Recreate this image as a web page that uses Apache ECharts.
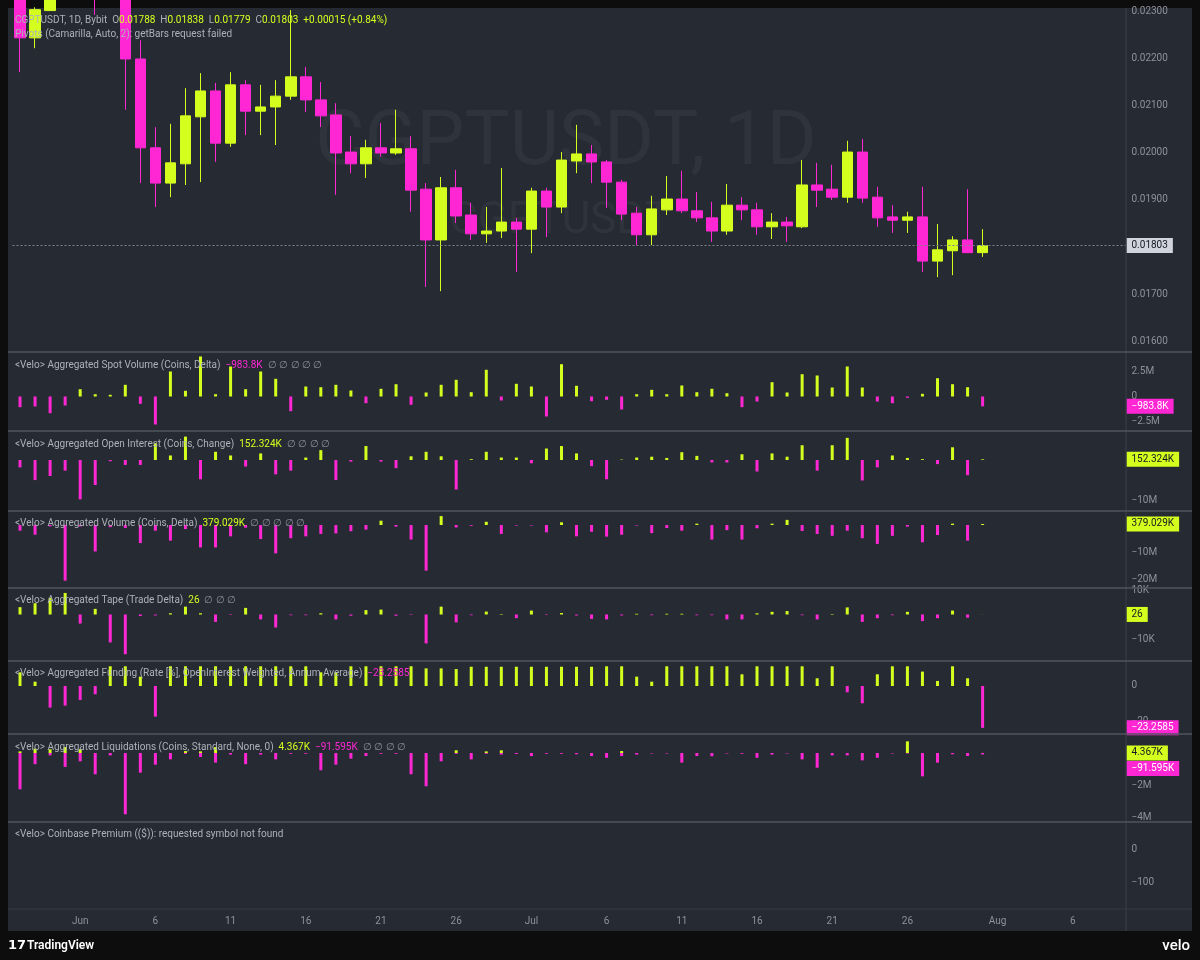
<!DOCTYPE html>
<html>
<head>
<meta charset="utf-8">
<title>CGPTUSDT, 1D</title>
<script src="https://cdn.jsdelivr.net/npm/echarts@6/dist/echarts.min.js"></script>
<style>
  html, body { margin: 0; padding: 0; background: #0d0d0d; }
  #chart { width: 1200px; height: 960px; }
</style>
</head>
<body>
<div id="chart"></div>
<script>
// 日期轴：5/28 起 74 天
const categories = []
for (let i = 0; i < 74; i++) {
  const d = new Date(Date.UTC(2025, 4, 28 + i))
  categories.push(d.toISOString().slice(0, 10))
}
const monthNames = ['Jan', 'Feb', 'Mar', 'Apr', 'May', 'Jun', 'Jul', 'Aug', 'Sep', 'Oct', 'Nov', 'Dec']
const tickDays = [1, 6, 11, 16, 21, 26]

// K 线 [open, high, low, close]，5/28 - 7/31
const candles = [
  [0.02330, 0.02345, 0.02172, 0.02245], [0.02245, 0.02310, 0.02223, 0.02305],
  [0.02303, 0.02350, 0.02302, 0.02340], [0.02340, 0.02400, 0.02320, 0.02360],
  [0.02360, 0.02380, 0.02320, 0.02340], [0.02340, 0.02370, 0.02294, 0.02330],
  [0.02330, 0.02380, 0.02310, 0.02350], [0.02350, 0.02370, 0.02092, 0.02200],
  [0.02200, 0.02240, 0.01936, 0.02011], [0.02011, 0.02055, 0.01885, 0.01936],
  [0.01936, 0.02062, 0.01906, 0.01979], [0.01977, 0.02138, 0.01932, 0.02079],
  [0.02077, 0.02170, 0.01938, 0.02132], [0.02132, 0.02149, 0.01981, 0.02021],
  [0.02021, 0.02172, 0.02013, 0.02145], [0.02145, 0.02155, 0.02038, 0.02089],
  [0.02089, 0.02145, 0.02038, 0.02098], [0.02098, 0.02155, 0.02017, 0.02121],
  [0.02121, 0.02304, 0.02113, 0.02162], [0.02162, 0.02183, 0.02087, 0.02113],
  [0.02113, 0.02151, 0.02055, 0.02079], [0.02081, 0.02106, 0.01911, 0.02000],
  [0.02002, 0.02036, 0.01957, 0.01977], [0.01977, 0.02028, 0.01947, 0.02011],
  [0.02011, 0.02064, 0.01992, 0.02000], [0.02000, 0.02092, 0.01996, 0.02009],
  [0.02009, 0.02036, 0.01875, 0.01921], [0.01923, 0.01936, 0.01715, 0.01815],
  [0.01815, 0.01949, 0.01706, 0.01926], [0.01926, 0.01964, 0.01851, 0.01866],
  [0.01868, 0.01894, 0.01815, 0.01828], [0.01828, 0.01885, 0.01809, 0.01834],
  [0.01834, 0.01968, 0.01819, 0.01853], [0.01853, 0.01862, 0.01747, 0.01838],
  [0.01838, 0.01926, 0.01787, 0.01919], [0.01919, 0.01926, 0.01821, 0.01885],
  [0.01885, 0.02002, 0.01872, 0.01985], [0.01983, 0.02060, 0.01957, 0.01998],
  [0.01998, 0.02017, 0.01936, 0.01981], [0.01981, 0.01985, 0.01883, 0.01938],
  [0.01938, 0.01943, 0.01857, 0.01870], [0.01872, 0.01885, 0.01804, 0.01826],
  [0.01826, 0.01909, 0.01804, 0.01881], [0.01879, 0.01951, 0.01868, 0.01902],
  [0.01902, 0.01962, 0.01872, 0.01877], [0.01877, 0.01917, 0.01853, 0.01862],
  [0.01862, 0.01896, 0.01811, 0.01834], [0.01834, 0.01934, 0.01826, 0.01889],
  [0.01889, 0.01906, 0.01857, 0.01879], [0.01879, 0.01894, 0.01826, 0.01843],
  [0.01843, 0.01872, 0.01817, 0.01853], [0.01853, 0.01864, 0.01811, 0.01845],
  [0.01843, 0.01985, 0.01840, 0.01932], [0.01932, 0.01979, 0.01885, 0.01921],
  [0.01923, 0.01975, 0.01900, 0.01906], [0.01906, 0.02026, 0.01894, 0.02002],
  [0.02002, 0.02030, 0.01894, 0.01904], [0.01906, 0.01928, 0.01843, 0.01862],
  [0.01864, 0.01889, 0.01830, 0.01857], [0.01857, 0.01875, 0.01830, 0.01864],
  [0.01864, 0.01928, 0.01747, 0.01770], [0.01770, 0.01849, 0.01736, 0.01794],
  [0.01792, 0.01823, 0.01740, 0.01815], [0.01815, 0.01923, 0.01787, 0.01788],
  [0.01788, 0.01838, 0.01779, 0.01803]
]

// 现货成交量差 (M)
const spotDelta = [
  -1.07, -1.0, -1.67, -0.9, 0.73, 0.23, 0.17, 1.17, -0.73, -2.8,
  2.5, 0.57, 4.0, 0.23, 3.0, 0.73, 2.5, 1.77, -1.47, 1.0,
  0.93, 1.17, 0.6, -0.67, 0.77, 1.23, -0.83, 0.4, 1.17, 1.67,
  0.43, 2.67, -0.4, 1.27, 1.0, -2.0, 3.23, 1.07, -0.47,
  -0.33, -1.3, 0.23, 0.67, 0.23, 1.1, 0.43, 0.77, 0.33, -1.07, -0.5, 1.43, 0.4,
  2.23, 2.1, 0.9, 3.0, 0.9, -0.5, -0.67, -0.13, 0.27, 1.83, 1.23, 0.93, -0.9838
]
// 持仓量变化 (M)
const oiChange = [
  -1.8, -4.9, -3.9, -2.6, -9.6, -6.1, -0.3, -1.2, -1.2, 4.1,
  1.1, 5.7, -4.7, 2.0, 1.1, -1.6, 1.6, -3.5, -2.6, 0.6,
  2.4, -4.9, -0.4, 3.4, -0.4, -2.0, 0.9, 2.0, 0.9, -7.2,
  0.2, 2.0, 0.6, 0.6, -0.8, 2.8, 3.4, 1.6, -1.5,
  -4.7, 0.1, 0.6, 0.8, 0.5, 1.9, 1.0, -0.6, -0.6, 1.4, -2.8, 1.6, 0.8,
  3.6, -2.6, 3.6, 5.4, -5.0, -1.8, 1.1, 0.5, 0.2, -1.0, 3.1, -3.7, 0.152
]
// 合约成交量差 (M)
const volDelta = [
  -2.1, -3.6, -0.5, -20.6, -0.5, -9.8, -0.8, -1.1, -6.7, -2.1,
  -5.8, -1.5, -8.3, -8.3, -4.2, -1.0, -5.2, -10.5, -4.9, -4.2,
  -3.3, -3.1, -2.3, -1.7, 1.6, -0.6, -5.4, -16.9, 3.3, -0.9,
  -0.3, 1.2, -3.3, -0.2, -0.2, -2.7, 1.0, -4.2, -2.5,
  -4.3, -3.6, -0.2, -3.0, -1.1, -2.1, 0.5, -5.4, -1.9, -5.4, -1.2, 0.5, 1.9,
  -2.2, -3.3, -4.0, -2.1, -4.9, -7.0, -4.0, -0.6, -6.4, -3.7, 0.5, -5.8, 0.379
]
// 成交笔数差 (K)
const tapeDelta = [
  3.0, 4.6, 6.8, 8.8, -3.7, 2.3, -11.4, -16.2, -0.6, -0.4,
  0.5, 3.2, 0.5, -3.0, -0.2, 2.7, -2.0, -5.3, -0.3, -0.3,
  0.5, -2.0, -0.5, 1.8, 2.0, -0.5, -0.2, -11.8, 3.2, -3.2,
  -0.3, 1.2, 0.2, -1.5, 1.6, -0.2, 0.6, -0.4, -1.8,
  -2.0, -0.4, 0.3, -0.3, 0.3, 0.3, -0.3, -0.3, -2.0, -2.0, 0.5, 1.1, 1.4,
  -0.3, -2.0, 0.2, 2.9, -3.0, -1.5, -0.3, 1.1, -2.7, -1.5, 1.6, -1.3, 0.026
]
// 年化资金费率 (%)
const fundingRate = [
  7.6, 2.4, -12.0, -10.9, -7.8, -4.6, 10.95, 10.95, 5.2, -17.0,
  10.95, 10.95, 10.95, 10.95, 10.95, 10.95, 10.95, 10.95, 10.95, 10.95,
  7.6, 7.6, 10.95, 10.95, 10.95, 10.95, 10.95, 9.8, 9.8, 9.4,
  10.7, 10.7, 10.7, 10.7, 10.7, 10.7, 10.7, 10.7, 10.7,
  10.95, 10.95, 5.2, 2.4, 10.95, 10.95, 10.95, 10.95, 10.95, 6.5, 10.95, 10.95, 10.95,
  10.95, 4.3, 10.95, -3.5, -9.6, 6.5, 10.95, 10.95, 8.0, 2.8, 10.95, 4.3, -23.2585
]
// 爆仓 (M)：空头为正，多头为负
const liqShorts = [
  0.1, 0.27, 0.23, 0.37, 0.23, 0, 0, 0, 0, 0,
  0, 0.12, 0.1, 0.37, 0, 0, 0, 0, 0, 0,
  0, 0, 0, 0, 0, 0, 0, 0, 0, 0.17,
  0, 0.1, 0.17, 0, 0, 0, 0, 0, 0,
  0, 0.12, 0, 0, 0, 0, 0, 0, 0, 0, 0, 0, 0,
  0, 0, 0, 0, 0, 0, 0, 0.73, 0, 0, 0, 0, 0.004367
]
const liqLongs = [
  -2.27, -0.7, -0.15, -0.87, -0.52, -1.33, -0.15, -3.83, -1.23, -0.73,
  -0.4, -0.05, -0.25, -0.6, -0.1, -0.7, -0.1, -0.4, -0.05, -0.05,
  -1.08, -0.73, -0.35, -0.19, -0.05, -0.05, -1.33, -2.08, -0.52, -0.05,
  -0.4, -0.05, -0.1, -0.06, -0.19, -0.05, -0.05, -0.08, -0.19,
  -0.3, -0.19, -0.1, -0.03, -0.03, -0.6, -0.19, -0.2, -0.03, -0.05, -0.3, -0.1, -0.03,
  -0.4, -0.92, -0.15, -0.15, -0.46, -0.3, -0.03, -0.03, -1.46, -0.6, -0.08, -0.19, -0.0916
]

const priceTicks = [0.016, 0.017, 0.018, 0.019, 0.020, 0.021, 0.022, 0.023]

const LIME = '#d4ff1e'
const PINK = '#ff27d4'
const AXIS_TEXT = '#8f929b'
const LABEL_TEXT = '#aeb1b9'
const FONT = 'Roboto, "Noto Sans", sans-serif'

const chart = echarts.init(document.getElementById('chart'))

// 面板布局 (px)
const panels = [
  { top: 8, height: 344, min: 0.015766, max: 0.023085 },
  { top: 352, height: 79, min: -3.45, max: 4.45 },
  { top: 431, height: 80, min: -12.44, max: 7.07 },
  { top: 511, height: 77, min: -23.33, max: 5.19 },
  { top: 588, height: 73, min: -18.98, max: 10.82 },
  { top: 661, height: 73, min: -26.67, max: 13.89 },
  { top: 734, height: 88, min: -4.3125, max: 1.1875 },
  { top: 822, height: 87, min: -178.8, max: 84.85 }
]

const signed = (v, unit) => (v === 0 ? '0' : (v < 0 ? '\u2212' : '') + Math.abs(v) + unit)

const axisLabels = [
  { values: priceTicks, fmt: v => v.toFixed(5) },
  { values: [2.5, 0, -2.5], fmt: v => signed(v, 'M') },
  { values: [-10], fmt: v => signed(v, 'M') },
  { values: [-10, -20], fmt: v => signed(v, 'M') },
  { values: [10, -10], fmt: v => signed(v, 'K') },
  { values: [0, -20], fmt: v => signed(v, '') },
  { values: [-2, -4], fmt: v => signed(v, 'M') },
  { values: [0, -100], fmt: v => signed(v, '') }
]

const grids = panels.map(p => ({ left: 12.5, right: 74.5, top: p.top, height: p.height }))

const xAxes = panels.map((p, i) => ({
  type: 'category',
  gridIndex: i,
  data: categories,
  boundaryGap: true,
  axisLine: { show: false },
  axisTick: { show: false },
  splitLine: { show: false },
  axisLabel: i === panels.length - 1 ? {
    show: true,
    color: AXIS_TEXT,
    fontSize: 10,
    fontFamily: FONT,
    margin: 7,
    interval: (idx, val) => tickDays.includes(Number(val.slice(8))),
    formatter: val => {
      const day = Number(val.slice(8))
      return day === 1 ? monthNames[Number(val.slice(5, 7)) - 1] : String(day)
    }
  } : { show: false }
}))

const yAxes = panels.map((p, i) => ({
  type: 'value',
  gridIndex: i,
  position: 'right',
  min: p.min,
  max: p.max,
  axisLine: { show: false },
  axisTick: { show: false },
  splitLine: { show: false },
  axisLabel: {
    color: AXIS_TEXT,
    fontSize: 10,
    fontFamily: FONT,
    margin: 6,
    customValues: axisLabels[i].values,
    formatter: axisLabels[i].fmt
  }
}))

// 右侧最新值标签
function lastTag(value, text, bg, fg, offsetY, line) {
  return {
    silent: true,
    symbol: 'none',
    animation: false,
    precision: 6,
    lineStyle: line || { color: 'rgba(0,0,0,0)', width: 1 },
    label: {
      position: 'end',
      distance: 1,
      formatter: text,
      backgroundColor: bg,
      color: fg,
      fontSize: 10,
      fontFamily: FONT,
      padding: [3, 5, 2, 5],
      offset: [0, offsetY || 0]
    },
    data: [{ yAxis: value }]
  }
}

function deltaBars(name, data, idx, tag) {
  return {
    name: name,
    type: 'bar',
    xAxisIndex: idx,
    yAxisIndex: idx,
    data: data,
    barWidth: 3,
    itemStyle: { color: p => (p.value >= 0 ? LIME : PINK) },
    markLine: tag
  }
}

const last = candles[candles.length - 1]

const series = [
  {
    name: 'CGPTUSDT',
    type: 'candlestick',
    xAxisIndex: 0,
    yAxisIndex: 0,
    barWidth: 11,
    clip: true,
    data: candles.map(c => [c[0], c[3], c[2], c[1]]),
    itemStyle: {
      color: LIME,
      color0: PINK,
      borderColor: LIME,
      borderColor0: PINK,
      borderWidth: 1
    }
  },
  {
    // 收盘价辅助线，仅用于最新价虚线与标签
    name: 'Close',
    type: 'line',
    xAxisIndex: 0,
    yAxisIndex: 0,
    data: candles.map(c => c[3]),
    symbol: 'none',
    silent: true,
    lineStyle: { opacity: 0 },
    z: 1,
    markLine: lastTag(last[3], last[3].toFixed(5), '#d1d4dc', '#131722', 0,
      { color: '#7d818b', type: [2, 2], width: 1 })
  },
  deltaBars('Spot Volume', spotDelta, 1, lastTag(spotDelta[64], '\u2212983.8K', PINK, '#ffffff')),
  deltaBars('Open Interest', oiChange, 2, lastTag(oiChange[64], '152.324K', LIME, '#131722')),
  deltaBars('Volume', volDelta, 3, lastTag(volDelta[64], '379.029K', LIME, '#131722')),
  deltaBars('Tape', tapeDelta, 4, lastTag(tapeDelta[64], '26', LIME, '#131722')),
  deltaBars('Funding', fundingRate, 5, lastTag(fundingRate[64], '\u221223.2585', PINK, '#ffffff')),
  {
    name: 'Liq Shorts',
    type: 'bar',
    xAxisIndex: 6,
    yAxisIndex: 6,
    data: liqShorts,
    barWidth: 3,
    barGap: '-100%',
    itemStyle: { color: LIME },
    markLine: lastTag(liqShorts[64], '4.367K', LIME, '#131722')
  },
  {
    name: 'Liq Longs',
    type: 'bar',
    xAxisIndex: 6,
    yAxisIndex: 6,
    data: liqLongs,
    barWidth: 3,
    barGap: '-100%',
    itemStyle: { color: PINK },
    markLine: lastTag(liqLongs[64], '\u221291.595K', PINK, '#ffffff', 14)
  }
]

// 面板标题
function panelText(y, parts) {
  const rich = {}
  let text = ''
  parts.forEach((p, i) => {
    rich['p' + i] = { fill: p[1], font: '10px ' + FONT }
    text += '{p' + i + '|' + p[0] + '}'
  })
  return {
    type: 'text', x: 15, y: y, z: 100,
    style: { text: text, rich: rich, verticalAlign: 'middle', textVerticalAlign: 'middle', font: '10px ' + FONT }
  }
}
const empty = '  \u2205 \u2205 \u2205 \u2205 \u2205'

const separators = [352, 431, 511, 588, 661, 734, 822].map(y => ({
  type: 'line', z: 50,
  shape: { x1: 8, y1: y, x2: 1192, y2: y },
  style: { stroke: '#50545e', lineWidth: 1.5 }
}))

const graphic = [
  { type: 'rect', z: -10, shape: { x: 8, y: 8, width: 1184, height: 923 }, style: { fill: '#262a33' } },
  {
    type: 'text', z: -5, x: 566, y: 145,
    style: { text: 'CGPTUSDT, 1D', fill: 'rgba(255,255,255,0.045)', font: '76px ' + FONT, align: 'center', textAlign: 'center', verticalAlign: 'middle', textVerticalAlign: 'middle' }
  },
  {
    type: 'text', z: -5, x: 560, y: 222,
    style: { text: 'CGPTUSDT', fill: 'rgba(255,255,255,0.045)', font: '44px ' + FONT, align: 'center', textAlign: 'center', verticalAlign: 'middle', textVerticalAlign: 'middle' }
  },
  { type: 'line', z: 50, shape: { x1: 1126, y1: 8, x2: 1126, y2: 931 }, style: { stroke: '#3a3e48', lineWidth: 1 } },
  { type: 'line', z: 50, shape: { x1: 8, y1: 909, x2: 1192, y2: 909 }, style: { stroke: '#363a44', lineWidth: 1 } },
  ...separators,
  panelText(20, [
    ['CGPTUSDT, 1D, Bybit  ', LABEL_TEXT],
    ['O', LABEL_TEXT], [last[0].toFixed(5) + '  ', LIME],
    ['H', LABEL_TEXT], [last[1].toFixed(5) + '  ', LIME],
    ['L', LABEL_TEXT], [last[2].toFixed(5) + '  ', LIME],
    ['C', LABEL_TEXT], [last[3].toFixed(5) + '  ', LIME],
    ['+0.00015 (+0.84%)', LIME]
  ]),
  panelText(34, [['Pivots (Camarilla, Auto, 2): getBars request failed', LABEL_TEXT]]),
  panelText(365, [['<Velo> Aggregated Spot Volume (Coins, Delta)  ', LABEL_TEXT], ['\u2212983.8K', PINK], [empty, AXIS_TEXT]]),
  panelText(444, [['<Velo> Aggregated Open Interest (Coins, Change)  ', LABEL_TEXT], ['152.324K', LIME], ['  \u2205 \u2205 \u2205 \u2205', AXIS_TEXT]]),
  panelText(523, [['<Velo> Aggregated Volume (Coins, Delta)  ', LABEL_TEXT], ['379.029K', LIME], [empty, AXIS_TEXT]]),
  panelText(600, [['<Velo> Aggregated Tape (Trade Delta)  ', LABEL_TEXT], ['26', LIME], ['  \u2205 \u2205 \u2205', AXIS_TEXT]]),
  panelText(673, [['<Velo> Aggregated Funding (Rate [%], OpenInterest Weighted, Annum Average)  ', LABEL_TEXT], ['\u221223.2585', PINK]]),
  panelText(747, [['<Velo> Aggregated Liquidations (Coins, Standard, None, 0)  ', LABEL_TEXT], ['4.367K', LIME], ['  ', LABEL_TEXT], ['\u221291.595K', PINK], ['  \u2205 \u2205 \u2205 \u2205', AXIS_TEXT]]),
  panelText(834, [['<Velo> Coinbase Premium (($)): requested symbol not found', LABEL_TEXT]]),
  {
    type: 'text', x: 8, y: 946, z: 100,
    style: { text: '17', fill: '#ffffff', font: '900 13px "DejaVu Sans", sans-serif', verticalAlign: 'middle', textVerticalAlign: 'middle' }
  },
  {
    type: 'text', x: 27, y: 946, z: 100,
    style: { text: 'TradingView', fill: '#ffffff', font: '600 12px ' + FONT, verticalAlign: 'middle', textVerticalAlign: 'middle' }
  },
  {
    type: 'text', x: 1190, y: 946, z: 100,
    style: { text: 'velo', fill: '#ffffff', font: '500 15px ' + FONT, align: 'right', textAlign: 'right', verticalAlign: 'middle', textVerticalAlign: 'middle' }
  }
]

chart.setOption({
  backgroundColor: '#0d0d0d',
  animation: false,
  grid: grids,
  xAxis: xAxes,
  yAxis: yAxes,
  series: series,
  graphic: graphic
})
</script>
</body>
</html>
